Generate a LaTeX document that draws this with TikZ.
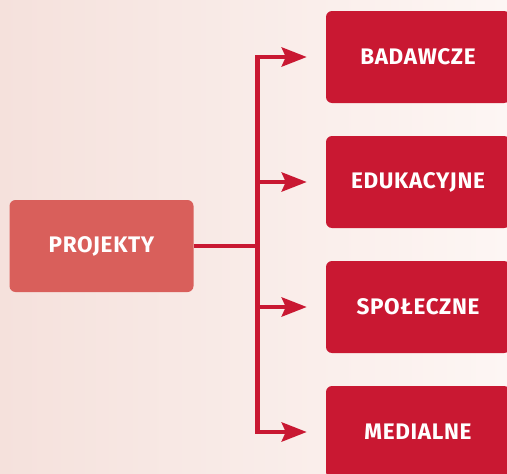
\documentclass[tikz,border=0pt]{standalone}
\usepackage{fontspec}
\setmainfont{Fira Sans}
\newfontfamily\boxfont[LetterSpace=3]{Fira Sans}
\usetikzlibrary{arrows.meta}
\definecolor{crim}{HTML}{C91832}
\definecolor{rose}{HTML}{D95F5B}
\definecolor{bgL}{HTML}{F5E1DC}
\definecolor{bgR}{HTML}{FDF6F4}
\tikzset{
  box/.style={rounded corners=6pt, minimum width=184pt, minimum height=92pt, inner sep=0pt,
    text=white, font=\boxfont\bfseries\fontsize{22.5}{26}\selectfont},
  leaf/.style={box, fill=crim},
  root/.style={box, fill=rose},
  trunk/.style={draw=crim, line width=4.5pt},
  branch/.style={draw=crim, line width=4.5pt, -{Stealth[length=25pt,width=19pt,inset=4pt]}, shorten >=19pt}
}
\begin{document}
\begin{tikzpicture}[x=1pt,y=-1pt]
\useasboundingbox (0,0) rectangle (507,474);
\shade[left color=bgL, right color=bgR] (0,0) rectangle (507,474);
\node[root] (P) at (101.5,246) {PROJEKTY};
\node[leaf] (B1) at (418,57) {BADAWCZE};
\node[leaf] (B2) at (418,182) {EDUKACYJNE};
\node[leaf] (B3) at (418,307) {SPOŁECZNE};
\node[leaf] (B4) at (418,432) {MEDIALNE};
\coordinate (T0) at (257.5,246);
\coordinate (T1) at (257.5,57);
\coordinate (T2) at (257.5,182);
\coordinate (T3) at (257.5,307);
\coordinate (T4) at (257.5,432);
\draw[trunk] (P.east) -- (T0);
\draw[trunk, line cap=rect] (T1) -- (T4);
\draw[branch] (T1) -- (B1.west);
\draw[branch] (T2) -- (B2.west);
\draw[branch] (T3) -- (B3.west);
\draw[branch] (T4) -- (B4.west);
\end{tikzpicture}
\end{document}
